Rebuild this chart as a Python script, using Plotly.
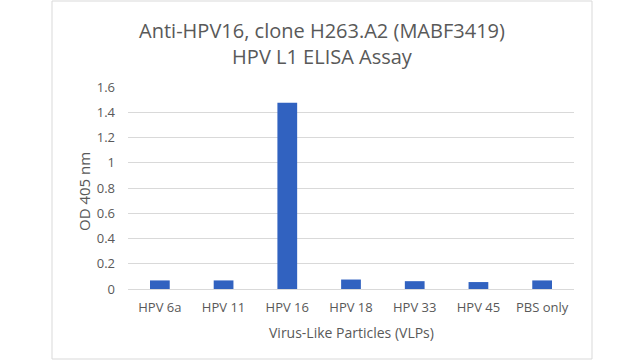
import plotly.graph_objects as go

categories = ["HPV 6a", "HPV 11", "HPV 16", "HPV 18", "HPV 33", "HPV 45", "PBS only"]
od405 = [0.068, 0.068, 1.475, 0.075, 0.062, 0.055, 0.068]
y_ticks = [0, 0.2, 0.4, 0.6, 0.8, 1, 1.2, 1.4, 1.6]
y_tick_labels = ["0", "0.2", "0.4", "0.6", "0.8", "1", "1.2", "1.4", "1.6"]

title_text = "Anti-HPV16, clone H263.A2 (MABF3419)<br>HPV L1 ELISA Assay"
x_title = "Virus-Like Particles (VLPs)"
y_title = "OD 405 nm"
font_family = "Open Sans, Noto Sans, sans-serif"
text_gray = "#595959"
W, H = 640, 360

fig = go.Figure(
    go.Bar(x=categories, y=od405, marker=dict(color="#3162C0", line=dict(width=0)))
)

L, R, T, B = 128, 66, 87, 71
pw = W - L - R
ph = H - T - B

def px_x(x):
    return (x - L) / pw

def px_y(y):
    return (H - B - y) / ph

fig.update_layout(
    width=W, height=H,
    margin=dict(l=L, r=R, t=T, b=B, autoexpand=False),
    paper_bgcolor="white", plot_bgcolor="white",
    bargap=0.69,
    showlegend=False,
    title=dict(text=title_text, x=322 / W, xref="container", xanchor="center",
               y=1 - 38 / H, yref="container", yanchor="middle",
               font=dict(family=font_family, size=20, color=text_gray)),
    font=dict(family=font_family, color=text_gray),
    xaxis=dict(showgrid=False, showline=True, linecolor="#d9d9d9", linewidth=1,
               ticks="", automargin=False, ticklabelstandoff=6,
               tickfont=dict(size=13, color=text_gray)),
    yaxis=dict(range=[0, 1.6], tickvals=y_ticks, ticktext=y_tick_labels,
               showgrid=True, gridcolor="#d9d9d9", gridwidth=1, zeroline=False,
               ticks="", automargin=False, ticklabelstandoff=12,
               tickfont=dict(size=13, color=text_gray)),
    annotations=[
        dict(text=x_title, xref="paper", yref="paper", x=0.5, y=px_y(332),
             xanchor="center", yanchor="middle", showarrow=False,
             font=dict(size=14, color=text_gray, family=font_family)),
        dict(text=y_title, xref="paper", yref="paper", x=px_x(84), y=px_y(192),
             xanchor="center", yanchor="middle", showarrow=False, textangle=-90,
             font=dict(size=15, color=text_gray, family=font_family)),
    ],
    shapes=[dict(type="rect", xref="paper", yref="paper",
                 x0=px_x(52), x1=px_x(592), y0=px_y(359), y1=px_y(1),
                 line=dict(color="#d9d9d9", width=1), fillcolor="rgba(0,0,0,0)", layer="below")],
)

fig.write_html("out.html", config={"displayModeBar": False},
               post_script="document.body.style.margin='0';")
